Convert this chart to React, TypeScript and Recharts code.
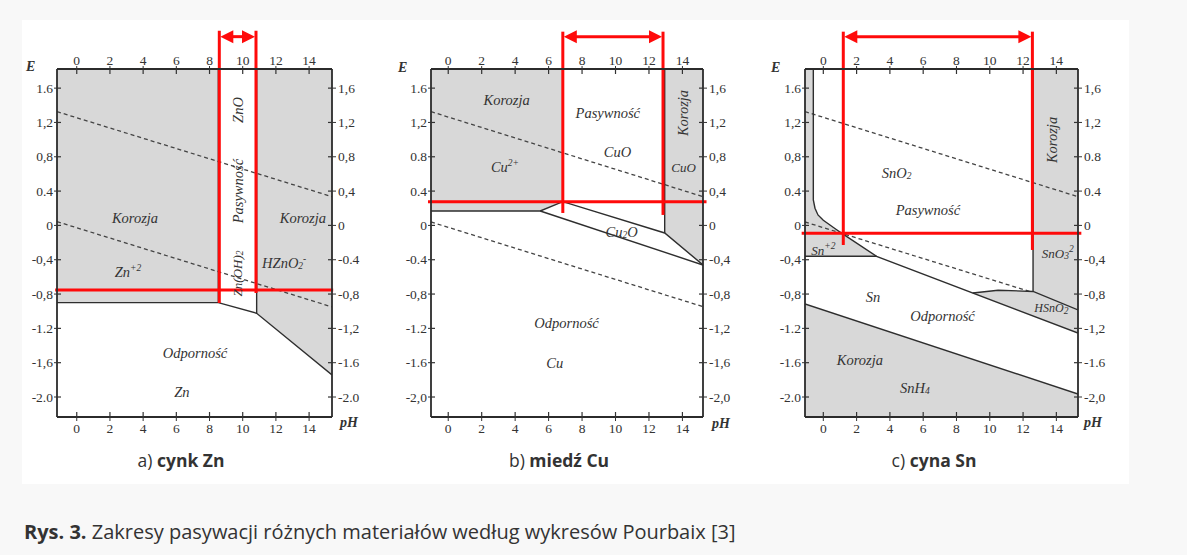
import { ComposedChart, Area, Line, XAxis, YAxis, ReferenceLine, ReferenceDot } from 'recharts'

type Pt = { pH: number; E: number }
type RangePt = { pH: number; r: [number, number] }
type Part = [string, ('sub' | 'sup')?]
type Lbl = { pH: number; E: number; parts: Part[]; rotate?: number; size?: number }

const RED = '#ff0a0a'
const GREY = '#d8d8d8'
const INK = '#333'
const SERIF = '"Liberation Serif", "DejaVu Serif", serif'

const PH_TICKS = [0, 2, 4, 6, 8, 10, 12, 14]
const E_TICKS = [1.6, 1.2, 0.8, 0.4, 0, -0.4, -0.8, -1.2, -1.6, -2.0]
const E_MIN = -2.233
const E_MAX = 1.823

// tick labels as printed in the scan (it mixes commas and points)
const znLeftTicks = ['1.6', '1,2', '0,8', '0.4', '0', '-0,4', '-0,8', '-1.2', '-1,6', '-2.0']
const znRightTicks = ['1,6', '1,2', '0,8', '0,4', '0', '-0.4', '-0,8', '-1,2', '-1.6', '-2.0']
const cuLeftTicks = ['1.6', '1,2', '0.8', '0.4', '0', '-0.4', '-0,8', '-1.2', '-1.6', '-2,0']
const cuRightTicks = ['1,6', '1,2', '0,8', '0,4', '0', '-0,4', '-0,8', '-1,2', '-1,6', '-2,0']
const snLeftTicks = ['1.6', '1,2', '0,8', '0.4', '0', '-0,4', '-0,8', '-1.2', '-1.6', '-2.0']
const snRightTicks = ['1,6', '1,2', '0.8', '0.4', '0', '-0,4', '-0,8', '-1,2', '-1.6', '-2,0']

// ---- a) zinc ----
const znCorrAcid: RangePt[] = [{ pH: -1.19, r: [-0.9, E_MAX] }, { pH: 8.53, r: [-0.9, E_MAX] }]
const znCorrAlk: RangePt[] = [{ pH: 10.84, r: [-1.024, E_MAX] }, { pH: 15.38, r: [-1.743, E_MAX] }]
const znImmunity: Pt[] = [{ pH: -1.19, E: -0.9 }, { pH: 8.53, E: -0.9 }, { pH: 10.84, E: -1.024 }, { pH: 15.38, E: -1.743 }]
const znOxideLeft: Pt[] = [{ pH: 8.53, E: E_MAX }, { pH: 8.53, E: -0.9 }]
const znOxideRight: Pt[] = [{ pH: 10.84, E: E_MAX }, { pH: 10.84, E: -1.024 }]
const znO2: Pt[] = [{ pH: -1.19, E: 1.326 }, { pH: 15.38, E: 0.335 }]
const znH2: Pt[] = [{ pH: -1.19, E: 0.044 }, { pH: 15.38, E: -0.95 }]
const znRed: Pt[][] = [
  [{ pH: 8.59, E: 2.27 }, { pH: 8.59, E: -0.904 }],
  [{ pH: 10.8, E: 2.27 }, { pH: 10.8, E: -0.787 }],
  [{ pH: -1.3, E: -0.752 }, { pH: 15.45, E: -0.752 }],
]
const znArrow: Pt[] = [{ pH: 8.59, E: 2.2 }, { pH: 10.8, E: 2.2 }]
const znLabels: Lbl[] = [
  { pH: 3.51, E: 0.087, parts: [['Korozja']] },
  { pH: 13.63, E: 0.087, parts: [['Korozja']] },
  { pH: 9.72, E: 0.4, parts: [['Pasywność']], rotate: -90 },
  { pH: 9.72, E: 1.345, parts: [['ZnO']], rotate: -90 },
  { pH: 9.68, E: -0.56, parts: [['Zn(OH)'], ['2', 'sub']], rotate: -90, size: 13 },
  { pH: 3.09, E: -0.543, parts: [['Zn'], ['+2', 'sup']] },
  { pH: 12.5, E: -0.438, parts: [['HZnO'], ['2', 'sub'], ['-', 'sup']] },
  { pH: 7.13, E: -1.487, parts: [['Odporność']] },
  { pH: 6.34, E: -1.94, parts: [['Zn']] },
]

// ---- b) copper ----
const cuCorrAcid: RangePt[] = [{ pH: -1.03, r: [0.168, E_MAX] }, { pH: 5.5, r: [0.168, E_MAX] }, { pH: 6.85, r: [0.277, E_MAX] }]
const cuCorrAlk: RangePt[] = [{ pH: 12.94, r: [-0.088, E_MAX] }, { pH: 15.23, r: [-0.461, E_MAX] }]
const cuUpper: Pt[] = [{ pH: -1.03, E: 0.168 }, { pH: 5.5, E: 0.168 }, { pH: 6.85, E: 0.277 }, { pH: 12.94, E: -0.088 }, { pH: 15.23, E: -0.461 }]
const cuLower: Pt[] = [{ pH: 5.5, E: 0.168 }, { pH: 15.23, E: -0.461 }]
const cuOxideLeft: Pt[] = [{ pH: 6.85, E: E_MAX }, { pH: 6.85, E: 0.277 }]
const cuOxideRight: Pt[] = [{ pH: 12.94, E: E_MAX }, { pH: 12.94, E: -0.088 }]
const cuO2: Pt[] = [{ pH: -1.03, E: 1.326 }, { pH: 15.23, E: 0.335 }]
const cuH2: Pt[] = [{ pH: -1.03, E: 0.04 }, { pH: 15.23, E: -0.947 }]
const cuRed: Pt[][] = [
  [{ pH: 6.85, E: 2.258 }, { pH: 6.85, E: 0.145 }],
  [{ pH: 12.84, E: 2.258 }, { pH: 12.84, E: 0.122 }],
  [{ pH: -1.21, E: 0.277 }, { pH: 15.44, E: 0.277 }],
]
const cuArrow: Pt[] = [{ pH: 6.85, E: 2.2 }, { pH: 12.84, E: 2.2 }]
const cuLabels: Lbl[] = [
  { pH: 3.49, E: 1.462, parts: [['Korozja']] },
  { pH: 9.54, E: 1.31, parts: [['Pasywność']] },
  { pH: 10.12, E: 0.86, parts: [['CuO']] },
  { pH: 3.39, E: 0.685, parts: [['Cu'], ['2+', 'sup']] },
  { pH: 14.02, E: 1.31, parts: [['Korozja']], rotate: -90 },
  { pH: 14.07, E: 0.685, parts: [['CuO']], size: 13 },
  { pH: 10.37, E: -0.076, parts: [['Cu'], ['2', 'sub'], ['O']] },
  { pH: 7.07, E: -1.137, parts: [['Odporność']] },
  { pH: 6.37, E: -1.603, parts: [['Cu']] },
]

// ---- c) tin ----
const snCorrAcid: RangePt[] = [
  { pH: -1.1, r: [-0.36, E_MAX] }, { pH: -0.6, r: [-0.36, E_MAX] }, { pH: -0.6, r: [-0.36, 0.297] },
  { pH: -0.5, r: [-0.36, 0.2] }, { pH: -0.32, r: [-0.36, 0.122] }, { pH: 0, r: [-0.36, 0.06] },
  { pH: 0.4, r: [-0.36, 0.005] }, { pH: 0.8, r: [-0.36, -0.05] }, { pH: 1.12, r: [-0.36, -0.092] },
  { pH: 3.2, r: [-0.36, -0.36] },
]
const snCorrAlk: RangePt[] = [{ pH: 12.6, r: [-0.77, E_MAX] }, { pH: 15.3, r: [-0.985, E_MAX] }]
const snHydroxo: RangePt[] = [
  { pH: 8.98, r: [-0.787, -0.787] }, { pH: 10.5, r: [-0.899, -0.755] },
  { pH: 12.6, r: [-1.055, -0.77] }, { pH: 15.3, r: [-1.254, -0.985] },
]
const snHydride: RangePt[] = [{ pH: -1.1, r: [E_MIN, -0.916] }, { pH: 15.3, r: [E_MIN, -1.965] }]
const snOxideEdge: Pt[] = [
  { pH: -0.6, E: E_MAX }, { pH: -0.6, E: 0.297 }, { pH: -0.5, E: 0.2 }, { pH: -0.32, E: 0.122 },
  { pH: 0, E: 0.06 }, { pH: 0.4, E: 0.005 }, { pH: 0.8, E: -0.05 }, { pH: 1.12, E: -0.092 },
  { pH: 3.2, E: -0.36 }, { pH: 15.3, E: -1.254 },
]
const snIonFloor: Pt[] = [{ pH: -1.1, E: -0.36 }, { pH: 3.2, E: -0.36 }]
const snHydroxoTop: Pt[] = [{ pH: 8.98, E: -0.787 }, { pH: 10.5, E: -0.755 }, { pH: 12.6, E: -0.77 }, { pH: 15.3, E: -0.985 }]
const snOxideRight: Pt[] = [{ pH: 12.6, E: E_MAX }, { pH: 12.6, E: -0.77 }]
const snHydrideEdge: Pt[] = [{ pH: -1.1, E: -0.916 }, { pH: 15.3, E: -1.965 }]
const snO2: Pt[] = [{ pH: -1.1, E: 1.326 }, { pH: 15.3, E: 0.335 }]
const snH2: Pt[] = [{ pH: -1.1, E: 0.04 }, { pH: 12.4, E: -0.77 }]
const snRed: Pt[][] = [
  [{ pH: 1.2, E: 2.258 }, { pH: 1.2, E: -0.228 }],
  [{ pH: 12.56, E: 2.258 }, { pH: 12.56, E: -0.286 }],
  [{ pH: -1.3, E: -0.092 }, { pH: 15.5, E: -0.092 }],
]
const snArrow: Pt[] = [{ pH: 1.2, E: 2.2 }, { pH: 12.56, E: 2.2 }]
const snLabels: Lbl[] = [
  { pH: 4.4, E: 0.608, parts: [['SnO'], ['2', 'sub']] },
  { pH: 6.28, E: 0.18, parts: [['Pasywność']] },
  { pH: 13.76, E: 0.996, parts: [['Korozja']], rotate: -90 },
  { pH: 0.0, E: -0.286, parts: [['Sn'], ['+2', 'sup']], size: 13 },
  { pH: 14.08, E: -0.32, parts: [['SnO'], ['3', 'sub'], ['2', 'sup']], size: 13 },
  { pH: 2.98, E: -0.83, parts: [['Sn']] },
  { pH: 7.16, E: -1.055, parts: [['Odporność']] },
  { pH: 13.7, E: -0.96, parts: [['HSnO'], ['2', 'sub']], size: 12 },
  { pH: 2.2, E: -1.568, parts: [['Korozja']] },
  { pH: 5.5, E: -1.898, parts: [['SnH'], ['4', 'sub']] },
]

interface PanelCfg {
  left: number
  width: number
  yLeftW: number
  yRightW: number
  domain: [number, number]
  leftTicks: string[]
  rightTicks: string[]
  regions: RangePt[][]
  solid: Pt[][]
  dashed: Pt[][]
  red: Pt[][]
  arrow: Pt[]
  labels: Lbl[]
  eAt: [number, number]
  phAt: [number, number]
  caption: [string, string]
  captionX: number
}

const panels: PanelCfg[] = [
  {
    left: 20, width: 360, yLeftW: 37, yRightW: 48, domain: [-1.19, 15.38],
    leftTicks: znLeftTicks, rightTicks: znRightTicks,
    regions: [znCorrAcid, znCorrAlk],
    solid: [znImmunity, znOxideLeft, znOxideRight],
    dashed: [znO2, znH2], red: znRed, arrow: znArrow, labels: znLabels,
    eAt: [32, 67], phAt: [350, 423], caption: ['a) ', 'cynk Zn'], captionX: 181,
  },
  {
    left: 385, width: 360, yLeftW: 46, yRightW: 42, domain: [-1.03, 15.23],
    leftTicks: cuLeftTicks, rightTicks: cuRightTicks,
    regions: [cuCorrAcid, cuCorrAlk],
    solid: [cuUpper, cuLower, cuOxideLeft, cuOxideRight],
    dashed: [cuO2, cuH2], red: cuRed, arrow: cuArrow, labels: cuLabels,
    eAt: [404, 68], phAt: [722, 424], caption: ['b) ', 'miedź Cu'], captionX: 559,
  },
  {
    left: 760, width: 370, yLeftW: 45, yRightW: 52, domain: [-1.1, 15.3],
    leftTicks: snLeftTicks, rightTicks: snRightTicks,
    regions: [snCorrAcid, snCorrAlk, snHydroxo, snHydride],
    solid: [snOxideEdge, snIonFloor, snHydroxoTop, snOxideRight, snHydrideEdge],
    dashed: [snO2, snH2], red: snRed, arrow: snArrow, labels: snLabels,
    eAt: [777, 68], phAt: [1094, 423], caption: ['c) ', 'cyna Sn'], captionX: 934,
  },
]

const axisStroke = { stroke: '#2b2b2b', strokeWidth: 1.8 }

// tick text drawn by hand so the serif face of the scan is kept;
// the short inward stub makes the tick cross the frame like in the scan
function makeTick(side: 'b' | 't' | 'l' | 'r', labels?: string[]) {
  return (p: any) => {
    const v = p.payload.value
    const txt = labels ? labels[E_TICKS.indexOf(v)] ?? String(v) : String(v)
    const anchor = side === 'l' ? 'end' : side === 'r' ? 'start' : 'middle'
    const dy = side === 'b' ? '0.72em' : side === 't' ? '-0.08em' : '0.34em'
    let stub: [number, number, number, number]
    if (side === 'b') stub = [p.x, p.y - 6, p.x, p.y - 11]
    else if (side === 't') stub = [p.x, p.y + 3, p.x, p.y + 8]
    else if (side === 'l') stub = [p.x + 4, p.y, p.x + 8, p.y]
    else stub = [p.x - 6, p.y, p.x - 10, p.y]
    return (
      <g>
        <line x1={stub[0]} y1={stub[1]} x2={stub[2]} y2={stub[3]} stroke={INK} strokeWidth={1.2} />
        <text x={p.x} y={p.y} dy={dy} textAnchor={anchor} fill={INK} fontFamily={SERIF} fontSize={13.5}>
          {txt}
        </text>
      </g>
    )
  }
}

function labelShape(l: Lbl) {
  return (p: any) => (
    <text
      x={p.cx}
      y={p.cy}
      textAnchor="middle"
      dominantBaseline="central"
      transform={l.rotate ? `rotate(${l.rotate} ${p.cx} ${p.cy})` : undefined}
      fill={INK}
      fontFamily={SERIF}
      fontStyle="italic"
      fontSize={l.size ?? 14.5}
    >
      {l.parts.map(([t, k], i) => (
        <tspan key={i} baselineShift={k === 'sub' ? '-30%' : k === 'sup' ? '40%' : undefined} fontSize={k ? 9.5 : undefined}>
          {t}
        </tspan>
      ))}
    </text>
  )
}

function ArrowShape(p: any) {
  const { x1, y1, x2, y2 } = p
  const w = 14
  const h = 6.5
  return (
    <g>
      <line x1={x1 + w - 2} y1={y1} x2={x2 - w + 2} y2={y2} stroke={RED} strokeWidth={3} />
      <polygon points={`${x1 + 1},${y1} ${x1 + w},${y1 - h} ${x1 + w},${y1 + h}`} fill={RED} />
      <polygon points={`${x2 - 1},${y2} ${x2 - w},${y2 - h} ${x2 - w},${y2 + h}`} fill={RED} />
    </g>
  )
}

function Panel({ cfg }: { cfg: PanelCfg }) {
  return (
    <div style={{ position: 'absolute', left: cfg.left, top: 0, width: cfg.width, height: 480 }}>
      <ComposedChart width={cfg.width} height={480} margin={{ top: 39, right: 0, bottom: 33, left: 0 }}>
        <XAxis
          xAxisId="b" dataKey="pH" type="number" domain={cfg.domain} allowDataOverflow ticks={PH_TICKS} interval={0}
          height={30} tickSize={4} tickMargin={2} axisLine={axisStroke} tickLine={{ stroke: INK }} tick={makeTick('b')}
        />
        <XAxis
          xAxisId="t" orientation="top" dataKey="pH" type="number" domain={cfg.domain} allowDataOverflow ticks={PH_TICKS}
          interval={0} height={30} tickSize={3} tickMargin={0} axisLine={axisStroke} tickLine={{ stroke: INK }}
          tick={makeTick('t')}
        />
        <YAxis
          yAxisId="l" type="number" domain={[E_MIN, E_MAX]} allowDataOverflow ticks={E_TICKS} interval={0} width={cfg.yLeftW}
          tickSize={3} tickMargin={1} axisLine={axisStroke} tickLine={{ stroke: INK }} tick={makeTick('l', cfg.leftTicks)}
        />
        <YAxis
          yAxisId="r" orientation="right" type="number" domain={[E_MIN, E_MAX]} allowDataOverflow ticks={E_TICKS} interval={0}
          width={cfg.yRightW} tickSize={4} tickMargin={2} axisLine={axisStroke} tickLine={{ stroke: INK }}
          tick={makeTick('r', cfg.rightTicks)}
        />
        {cfg.regions.map((d, i) => (
          <Area
            key={`reg${i}`} xAxisId="b" yAxisId="l" data={d} dataKey="r" type="linear" fill={GREY} fillOpacity={1}
            stroke="none" dot={false} activeDot={false} isAnimationActive={false}
          />
        ))}
        {cfg.dashed.map((d, i) => (
          <Line
            key={`dash${i}`} xAxisId="b" yAxisId="l" data={d} dataKey="E" type="linear" stroke="#444" strokeWidth={1.3}
            strokeDasharray="4 3" dot={false} activeDot={false} isAnimationActive={false}
          />
        ))}
        {cfg.solid.map((d, i) => (
          <Line
            key={`sol${i}`} xAxisId="b" yAxisId="l" data={d} dataKey="E" type="linear" stroke="#2e2e2e" strokeWidth={1.4}
            dot={false} activeDot={false} isAnimationActive={false}
          />
        ))}
        {cfg.labels.map((l, i) => (
          <ReferenceDot key={`lab${i}`} xAxisId="b" yAxisId="l" x={l.pH} y={l.E} r={0} ifOverflow="visible" shape={labelShape(l)} />
        ))}
        {cfg.red.map((s, i) => (
          <ReferenceLine
            key={`red${i}`} xAxisId="b" yAxisId="l" ifOverflow="visible" stroke={RED} strokeWidth={3}
            segment={s.map((p) => ({ x: p.pH, y: p.E }))}
          />
        ))}
        <ReferenceLine
          xAxisId="b" yAxisId="l" ifOverflow="visible" stroke={RED} strokeWidth={3}
          segment={cfg.arrow.map((p) => ({ x: p.pH, y: p.E }))} shape={ArrowShape}
        />
      </ComposedChart>
      <span style={{ ...axisName, left: cfg.eAt[0] - cfg.left - 6, top: cfg.eAt[1] - 9 }}>E</span>
      <span style={{ ...axisName, left: cfg.phAt[0] - cfg.left - 10, top: cfg.phAt[1] - 9 }}>pH</span>
    </div>
  )
}

const axisName: React.CSSProperties = {
  position: 'absolute',
  fontFamily: SERIF,
  fontStyle: 'italic',
  fontWeight: 'bold',
  fontSize: 14,
  color: INK,
  lineHeight: '18px',
}

export default function App() {
  return (
    <div style={{ position: 'absolute', left: 0, top: 0, width: 1187, height: 555, background: '#f8f8f8', overflow: 'hidden' }}>
      <div style={{ position: 'absolute', left: 22, top: 20, width: 1107, height: 464, background: '#fff' }} />
      {panels.map((cfg, i) => (
        <Panel key={i} cfg={cfg} />
      ))}
      {panels.map((cfg, i) => (
        <div
          key={`cap${i}`}
          style={{
            position: 'absolute', left: cfg.captionX - 100, width: 200, top: 448, textAlign: 'center',
            fontFamily: '"Open Sans", sans-serif', fontSize: 17.5, color: INK, lineHeight: '24px',
          }}
        >
          {cfg.caption[0]}
          <b>{cfg.caption[1]}</b>
        </div>
      ))}
      <div
        style={{
          position: 'absolute', left: 24, top: 517, fontFamily: '"Open Sans", sans-serif', fontSize: 20,
          color: INK, lineHeight: '30px', whiteSpace: 'nowrap',
        }}
      >
        <b>Rys. 3.</b> Zakresy pasywacji różnych materiałów według wykresów Pourbaix [3]
      </div>
    </div>
  )
}
